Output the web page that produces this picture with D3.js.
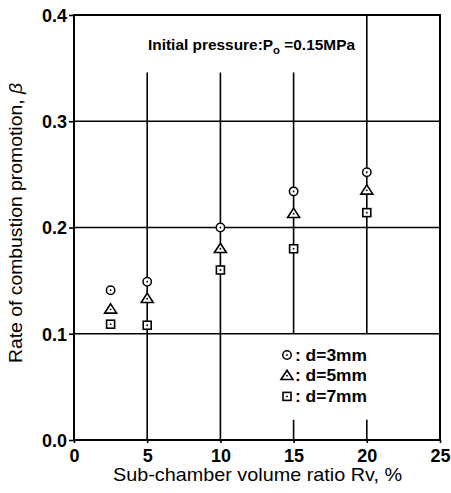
<!DOCTYPE html>
<html>
<head>
<meta charset="utf-8">
<title>Combustion promotion</title>
<script src="https://cdn.jsdelivr.net/npm/d3@7"></script>
<style>
  body { margin: 0; background: #fff; }
  text { font-family: "Liberation Sans", Arial, sans-serif; fill: #000; }
</style>
</head>
<body>
<script>
// values
var ratios = [2.5, 5, 10, 15, 20];
var beta3mm = [0.141, 0.149, 0.200, 0.234, 0.252];
var beta5mm = [0.123, 0.133, 0.180, 0.213, 0.235];
var beta7mm = [0.109, 0.108, 0.160, 0.180, 0.214];
var xTicks = [0, 5, 10, 15, 20, 25];
var yTicks = [0.0, 0.1, 0.2, 0.3, 0.4];
var legendLabels = [": d=3mm", ": d=5mm", ": d=7mm"];

var W = 451, H = 493;
var svg = d3.select("body").append("svg").attr("width", W).attr("height", H);

var x = d3.scaleLinear().domain([0, 25]).range([74, 440]);
var y = d3.scaleLinear().domain([0, 0.4]).range([440, 15]);

// horizontal grid lines
svg.selectAll(".hgrid").data([0.1, 0.2, 0.3]).enter().append("line")
   .attr("x1", x(0)).attr("x2", x(25))
   .attr("y1", function(d){ return y(d); }).attr("y2", function(d){ return y(d); })
   .attr("stroke", "#000").attr("stroke-width", 1.6);

// vertical grid lines, broken by the note and the legend
var vsegs = [
  {v: 5, y0: 0, y1: 0.346},
  {v: 10, y0: 0, y1: 0.346},
  {v: 15, y0: 0.1, y1: 0.346},
  {v: 15, y0: 0, y1: 0.019},
  {v: 20, y0: 0.1, y1: 0.4},
  {v: 20, y0: 0, y1: 0.019}
];
svg.selectAll(".vgrid").data(vsegs).enter().append("line")
   .attr("x1", function(d){ return x(d.v); }).attr("x2", function(d){ return x(d.v); })
   .attr("y1", function(d){ return y(d.y0); }).attr("y2", function(d){ return y(d.y1); })
   .attr("stroke", "#000").attr("stroke-width", 1.6);

// frame
svg.append("rect").attr("x", x(0)).attr("y", y(0.4))
   .attr("width", x(25) - x(0)).attr("height", y(0) - y(0.4))
   .attr("fill", "none").attr("stroke", "#000").attr("stroke-width", 2);

// axes
var yAxis = svg.append("g").attr("transform", "translate(" + x(0) + ",0)")
   .call(d3.axisLeft(y).tickValues(yTicks).tickFormat(d3.format(".1f")).tickSize(5).tickSizeOuter(0).tickPadding(2));
var xAxis = svg.append("g").attr("transform", "translate(0," + y(0) + ")")
   .call(d3.axisBottom(x).tickValues(xTicks).tickSize(3).tickSizeOuter(0).tickPadding(6));
[yAxis, xAxis].forEach(function(g){
  g.select(".domain").remove();
  g.selectAll("line").attr("stroke", "#000").attr("stroke-width", 1.6);
  g.selectAll("text").style("font-family", "Liberation Sans, Arial, sans-serif")
   .style("font-weight", "bold").style("font-size", "18px").attr("fill", "#000");
});
yAxis.selectAll("text").attr("dy", "0.36em");

// markers
function marker(g, kind) {
  if (kind === 0) {
    g.append("circle").attr("r", 4.2).attr("fill", "#fff").attr("stroke", "#000").attr("stroke-width", 1.5);
  } else if (kind === 1) {
    g.append("path").attr("d", "M0,-5.5L6,3.8L-6,3.8Z").attr("fill", "#fff").attr("stroke", "#000").attr("stroke-width", 1.6);
  } else {
    g.append("rect").attr("x", -4).attr("y", -4).attr("width", 8).attr("height", 8)
     .attr("fill", "#fff").attr("stroke", "#000").attr("stroke-width", 1.6);
  }
  g.append("circle").attr("r", 0.9).attr("fill", "#000");
}

[beta3mm, beta5mm, beta7mm].forEach(function(series, k){
  svg.append("g").selectAll("g").data(series).enter().append("g")
     .attr("transform", function(d, i){ return "translate(" + x(ratios[i]) + "," + y(d) + ")"; })
     .each(function(){ marker(d3.select(this), k); });
});

// legend
var leg = svg.append("g").selectAll("g").data(legendLabels).enter().append("g")
   .attr("transform", function(d, i){ return "translate(287," + (355 + i * 20.7) + ")"; });
leg.each(function(d, i){ marker(d3.select(this), i); });
leg.append("text").attr("x", 8).attr("dy", "0.36em")
   .attr("textLength", 72).attr("lengthAdjust", "spacingAndGlyphs")
   .style("font-size", "16px").style("font-weight", "bold").text(function(d){ return d; });

// note
var note = svg.append("text").attr("x", 148).attr("y", 50)
   .attr("textLength", 207).attr("lengthAdjust", "spacingAndGlyphs")
   .style("font-size", "15px").style("font-weight", "bold");
note.append("tspan").text("Initial pressure:P");
note.append("tspan").attr("dy", 4).style("font-size", "11px").text("o");
note.append("tspan").attr("dy", -4).text(" =0.15MPa");

// axis titles
svg.append("text").attr("x", 113).attr("y", 481)
   .attr("textLength", 289).attr("lengthAdjust", "spacingAndGlyphs")
   .style("font-size", "19px")
   .text("Sub-chamber volume ratio Rv, %");
var yt = svg.append("text").attr("transform", "translate(22,363) rotate(-90)")
   .attr("textLength", 280).attr("lengthAdjust", "spacingAndGlyphs")
   .style("font-size", "18px");
yt.append("tspan").text("Rate of combustion promotion, ");
yt.append("tspan").style("font-style", "italic").text("\u03b2");
</script>
</body>
</html>
